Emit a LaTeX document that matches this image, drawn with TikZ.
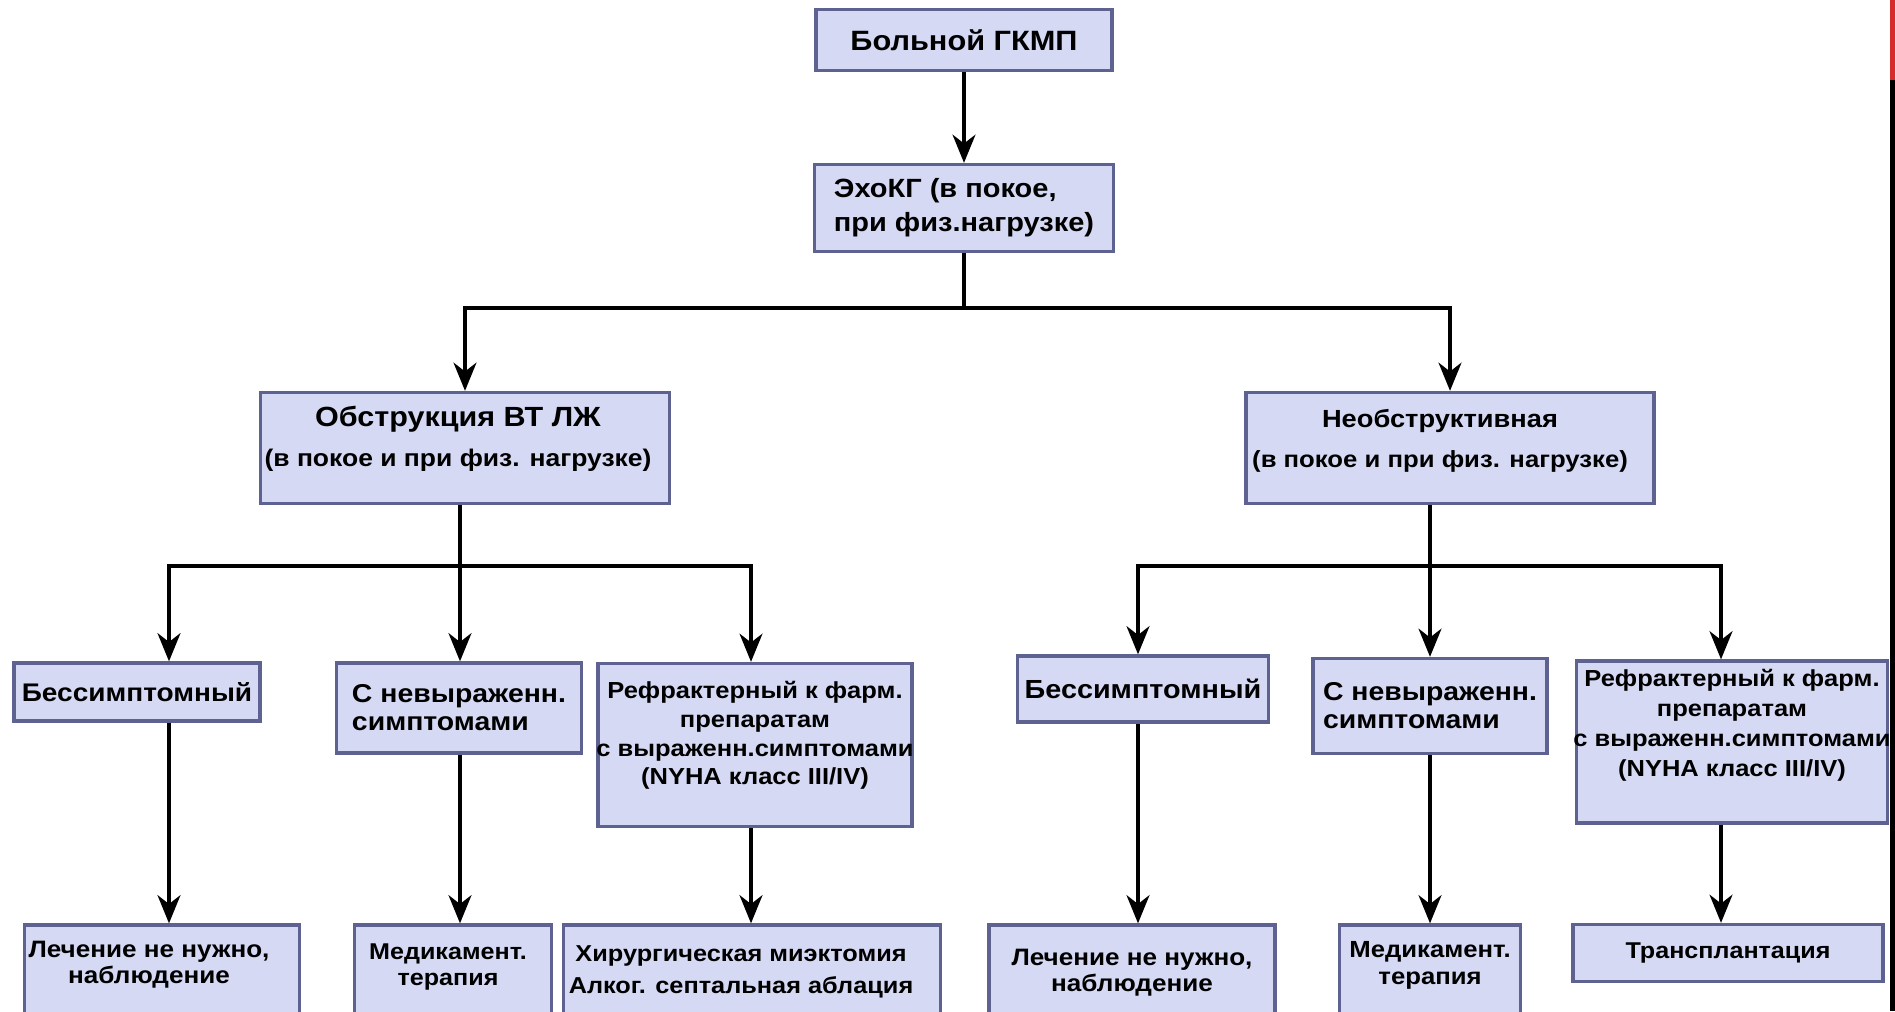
\documentclass[tikz,border=0pt]{standalone}
\usepackage{fontspec}
\setmainfont{Liberation Sans}[FakeStretch=1.1]
\usepackage{xcolor}
\usetikzlibrary{arrows.meta,positioning}
\definecolor{boxfill}{HTML}{D5D9F3}
\definecolor{boxline}{HTML}{5E6290}
\definecolor{edgered}{HTML}{D42B2B}
\newcommand{\fs}[2]{\bfseries\fontsize{#1}{#2}\selectfont}

\begin{document}
\begin{tikzpicture}[
    x=0.02cm, y=-0.02cm,
    box/.style 2 args={draw=boxline, fill=boxfill, line width=1.9pt,
                 minimum width=#1*0.02cm, minimum height=#2*0.02cm,
                 inner sep=0pt, align=center, font=\fs{13}{16}},
    txt/.style={inner sep=0pt, align=center, font=\fs{13}{16}},
    line/.style={draw=black, line width=2.2pt},
    arrow/.style={line, -{Stealth[length=16pt, width=13pt, inset=5pt]}},
]
\useasboundingbox (0,0) rectangle (1895,1011);

% Вершина: больной и ЭхоКГ
\node[box={296}{61}, font=\fs{15.9}{19}] (top) at (964,40) {Больной ГКМП};
\node[box={299}{87}, align=left, font=\fs{15}{19.3}] (echo) at (964,208) {ЭхоКГ (в покое,\\при физ.нагрузке)};

% Второй уровень: обструкция / необструктивная
\node[box={409}{111}] (obs) at (465,448) {};
\node[txt, font=\fs{13.7}{22.7}, below=0.3cm of obs.north, xshift=-0.14cm] (obst)
    {{\fontsize{15.8}{19}\selectfont Обструкция ВТ ЛЖ}\\(в покое и при физ. нагрузке)};
\node[box={408}{111}] (nob) at (1450,448) {};
\node[txt, font=\fs{13.3}{23}, below=0.36cm of nob.north, xshift=-0.2cm] (nobt)
    {{\fontsize{14.1}{17}\selectfont Необструктивная}\\(в покое и при физ. нагрузке)};

% Третий уровень, слева
\node[box={246}{58}, font=\fs{14.5}{17}] (b1) at (137,692) {Бессимптомный};
\node[box={245}{90}, align=left, font=\fs{14.7}{15.9}] (c1) at (459,708) {С невыраженн.\\симптомами};
\node[box={314}{163}] (r1) at (755,745) {};
\node[txt, font=\fs{13.2}{16.4}, below=0.38cm of r1.north] (r1t)
    {Рефрактерный к фарм.\\препаратам\\с выраженн.симптомами\\(NYHA класс III/IV)};

% Третий уровень, справа
\node[box={251}{66}, font=\fs{14.9}{17}] (b2) at (1143,689) {Бессимптомный};
\node[box={234}{95}, align=left, font=\fs{14.7}{15.9}] (c2) at (1430,706) {С невыраженн.\\симптомами};
\node[box={311}{162}] (r2) at (1732,742) {};
\node[txt, font=\fs{13.2}{17}, below=0.2cm of r2.north] (r2t)
    {Рефрактерный к фарм.\\препаратам\\с выраженн.симптомами\\(NYHA класс III/IV)};

% Нижний уровень: лечение
\node[box={275}{120}] (l1) at (162,985) {};
\node[txt, font=\fs{13.5}{15.3}, below=0.34cm of l1.north, xshift=-0.26cm] {Лечение не нужно,\\наблюдение};
\node[box={197}{120}] (m1) at (453,985) {};
\node[txt, font=\fs{13}{15}, below=0.4cm of m1.north, xshift=-0.1cm] {Медикамент.\\терапия};
\node[box={377}{120}] (h1) at (752,985) {};
\node[txt, font=\fs{13.1}{18.1}, below=0.44cm of h1.north, xshift=-0.22cm] {Хирургическая миэктомия\\Алког. септальная аблация};
\node[box={286}{120}] (l2) at (1132,985) {};
\node[txt, font=\fs{13.5}{15.3}, below=0.5cm of l2.north] {Лечение не нужно,\\наблюдение};
\node[box={181}{120}] (m2) at (1430,985) {};
\node[txt, font=\fs{13.3}{15}, below=0.36cm of m2.north] {Медикамент.\\терапия};
\node[box={310}{57}] (t2) at (1728,953) {Трансплантация};

% Точки ветвления
\coordinate (hub) at (964,308);
\coordinate (cA) at (169,566);
\coordinate (cB) at (460,566);
\coordinate (cC) at (751,566);
\coordinate (cD) at (1138,566);
\coordinate (cE) at (1430,566);
\coordinate (cF) at (1721,566);

% Стрелки
\draw[arrow] (top) -- (echo);
\draw[line] (echo) -- (hub);
\draw[arrow] (hub) -| (obs);
\draw[arrow] (hub) -| (nob);
\draw[line] (obs.south -| cB) -- (cB);
\draw[line] (nob.south -| cE) -- (cE);
\foreach \c/\n in {cA/b1, cB/c1, cC/r1}
    \draw[arrow] (cB) -| (\c |- \n.north);
\foreach \c/\n in {cD/b2, cE/c2, cF/r2}
    \draw[arrow] (cE) -| (\c |- \n.north);
\foreach \c/\n/\m in {cA/b1/l1, cB/c1/m1, cC/r1/h1, cD/b2/l2, cE/c2/m2, cF/r2/t2}
    \draw[arrow] (\c |- \n.south) -- (\c |- \m.north);

% Край слайда
\fill[edgered] (1890,0) rectangle (1895,80);
\fill[black] (1890,80) rectangle (1895,1011);

\end{tikzpicture}
\end{document}
